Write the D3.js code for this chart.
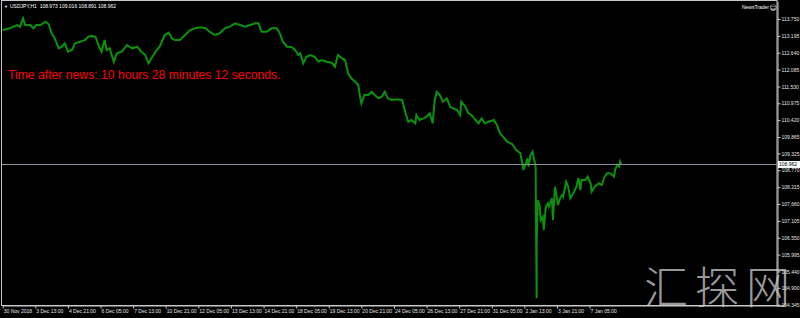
<!DOCTYPE html>
<html>
<head>
<meta charset="utf-8">
<script src="https://cdn.jsdelivr.net/npm/d3@7"></script>
<style>
  html, body { margin: 0; padding: 0; background: #000; }
  svg { display: block; }
</style>
</head>
<body>
<svg width="800" height="318"></svg>
<script>
// H1 bar index (trading hours since 30 Nov 2018 05:00) and close
var bars = [0,7,14,17,20,22,27,30,33,37,
  42,45,48,51,55,58,61,64,68,71,
  76,81,84,87,91,94,97,100,102,105,
  109,112,117,122,127,132,136,140,143,146,
  150,154,159,163,166,169,174,179,184,189,
  194,199,203,208,213,218,223,228,233,238,
  243,248,251,254,259,264,269,272,275,279,
  284,287,290,292,295,298,302,306,310,313,
  318,323,326,329,333,336,339,342,346,349,
  351,352,355,359,362,365,369,372,375,378,
  382,387,392,395,398,401,405,406,409,413,
  416,419,422,424,426,429,432,436,439,442,
  446,449,450,454,457,460,464,467,470,473,
  477,482,485,488,491,495,500,504,508,510,
  511,514,515,516,518,520,522,523,524,524,
  525,527,528,530,531,533,535,536,539,540,
  542,544,545,547,549,550,553,555,557,560,
  563,565,567,568,572,574,577,578,581,585,
  588,590,593,596,600,601,603,605,606,607];

var closes = [113.388,113.444,113.552,113.497,113.773,113.552,113.552,113.444,113.552,113.552,
  113.661,113.585,113.279,113.115,112.785,112.838,112.950,112.674,112.729,112.950,
  113.003,113.059,113.167,113.190,113.167,112.894,112.674,113.059,112.729,112.785,
  112.344,112.621,112.674,112.894,112.785,112.838,112.674,112.565,112.292,112.456,
  112.674,112.838,113.223,113.299,113.115,113.059,113.059,113.223,113.388,113.444,
  113.477,113.444,113.332,113.223,113.279,113.444,113.497,113.608,113.552,113.497,
  113.552,113.608,113.608,113.332,113.332,113.444,113.444,113.279,113.003,112.838,
  112.818,112.729,112.565,112.621,112.292,112.509,112.565,112.509,112.344,112.400,
  112.344,112.311,112.180,112.565,112.456,112.400,111.962,111.798,111.686,111.577,
  111.139,110.975,111.248,111.248,111.357,111.248,111.139,111.192,111.357,111.139,
  111.083,111.107,111.083,110.698,110.369,110.425,110.316,110.590,110.425,110.481,
  110.534,110.646,110.316,111.083,111.357,111.248,111.028,111.139,110.863,110.810,
  110.754,110.590,111.028,110.863,110.646,110.590,110.425,110.316,110.481,110.316,
  110.369,110.425,110.260,109.987,109.875,109.711,109.635,109.437,109.329,109.000,
  108.779,109.052,109.164,108.888,109.273,109.381,109.052,108.888,104.555,106.254,
  107.792,107.571,107.133,107.242,106.804,107.571,107.683,107.571,107.847,107.133,
  108.229,107.847,107.627,107.847,107.956,107.900,108.394,108.229,107.847,108.012,
  108.229,108.506,108.121,108.450,108.450,108.559,108.341,108.065,108.229,108.341,
  108.285,108.506,108.670,108.670,108.559,108.779,108.944,108.888,109.052,108.962];

var timeLabels = ['30 Nov 2018', '3 Dec 13:00', '4 Dec 21:00', '6 Dec 05:00', '7 Dec 13:00',
  '10 Dec 21:00', '12 Dec 05:00', '13 Dec 13:00', '14 Dec 21:00', '18 Dec 05:00',
  '19 Dec 13:00', '20 Dec 21:00', '24 Dec 05:00', '26 Dec 13:00', '27 Dec 21:00',
  '31 Dec 05:00', '2 Jan 13:00', '3 Jan 21:00', '7 Jan 05:00'];
var timeTicks = [0, 32, 64, 96, 128, 160, 192, 224, 256, 288, 320, 352, 384, 416, 448, 480, 512, 544, 576];

var priceTicks = [113.750, 113.195, 112.640, 112.085, 111.530, 110.975, 110.420, 109.865, 109.325,
  108.770, 108.215, 107.660, 107.105, 106.550, 105.995, 105.440, 104.900, 104.345];

var lastPrice = 108.962;
var header = 'USDJPY,H1  108.973 109.016 108.891 108.962';
var newsText = 'Time after news: 10 hours 28 minutes 12 seconds.';

var svg = d3.select('svg'),
  width = +svg.attr('width'),
  height = +svg.attr('height');

var plotLeft = 2, plotRight = 777, plotTop = 1, plotBottom = 305.5;

var x = d3.scaleLinear().domain([0, 760]).range([2.7, 777.1]);
var y = d3.scaleLinear().domain([104.318, 114.343]).range([plotBottom, plotTop]);

var smallFont = '5px "Liberation Sans", Arial, sans-serif';

// frame
svg.append('rect')
  .attr('x', plotLeft - 0.5).attr('y', plotTop - 0.5)
  .attr('width', plotRight - plotLeft + 0.5).attr('height', plotBottom - plotTop + 0.5)
  .attr('fill', 'none')
  .attr('stroke', '#c8c8c8')
  .attr('stroke-width', 1);

// price line
var line = d3.line()
  .x(function(d) { return x(d[0]); })
  .y(function(d) { return y(d[1]); });

svg.append('path')
  .datum(d3.zip(bars, closes))
  .attr('d', line)
  .attr('fill', 'none')
  .attr('stroke', '#0a930a')
  .attr('stroke-width', 2)
  .attr('stroke-linejoin', 'miter');

// bid line
svg.append('line')
  .attr('x1', plotLeft).attr('x2', plotRight)
  .attr('y1', Math.round(y(lastPrice)) + 0.5).attr('y2', Math.round(y(lastPrice)) + 0.5)
  .attr('stroke', '#8c8c9a')
  .attr('stroke-width', 1);

// watermark (sits under the axis labels, as in the screenshot)
svg.append('text')
  .attr('x', 644).attr('y', 304)
  .attr('fill', '#c4c4c4')
  .attr('fill-opacity', 0.8)
  .attr('letter-spacing', 7)
  .style('font', '300 44px "Noto Sans CJK SC", sans-serif')
  .text('汇探网');

// right axis
var yAxis = svg.append('g')
  .attr('transform', 'translate(' + (plotRight + 0.5) + ',0)')
  .call(d3.axisRight(y)
    .tickValues(priceTicks)
    .tickFormat(d3.format('.3f'))
    .tickSize(3)
    .tickPadding(1)
    .tickSizeOuter(0));
yAxis.select('.domain').attr('stroke', '#c8c8c8');
yAxis.selectAll('line').attr('stroke', '#c8c8c8');
yAxis.selectAll('text').attr('fill', '#e6e6e6').style('font', smallFont);

// bottom axis
var xAxis = svg.append('g')
  .attr('transform', 'translate(0,' + plotBottom + ')')
  .call(d3.axisBottom(x)
    .tickValues(timeTicks)
    .tickFormat(function(d, i) { return timeLabels[i]; })
    .tickSize(3)
    .tickSizeOuter(0));
xAxis.select('.domain').attr('stroke', '#c8c8c8');
xAxis.selectAll('line').attr('stroke', '#c8c8c8');
xAxis.selectAll('text')
  .attr('fill', '#e6e6e6')
  .attr('text-anchor', 'start')
  .attr('x', 0.5)
  .attr('y', 3.5)
  .style('font', smallFont);

// last price box
var py = y(lastPrice);
svg.append('rect')
  .attr('x', plotRight + 1).attr('y', py - 3.5)
  .attr('width', 22).attr('height', 7)
  .attr('fill', '#fff');
svg.append('text')
  .attr('x', plotRight + 2).attr('y', py + 1.8)
  .attr('fill', '#000')
  .style('font', smallFont)
  .text(d3.format('.3f')(lastPrice));

// header
svg.append('text')
  .attr('x', 4).attr('y', 8)
  .attr('fill', '#fff')
  .style('font', '4px sans-serif')
  .text('\u25BC');
svg.append('text')
  .attr('x', 10).attr('y', 8)
  .attr('fill', '#fff')
  .attr('xml:space', 'preserve')
  .style('font', smallFont)
  .text(header);

svg.append('text')
  .attr('x', 769).attr('y', 9)
  .attr('text-anchor', 'end')
  .attr('fill', '#fff')
  .style('font', smallFont)
  .text('NewsTrader');
svg.append('text')
  .attr('x', 769.5).attr('y', 9.5)
  .attr('fill', '#fff')
  .style('font', '7px "DejaVu Sans", sans-serif')
  .text('\u263A');

// news timer
svg.append('text')
  .attr('x', 8).attr('y', 79)
  .attr('fill', '#ff0000')
  .style('font', '12.2px "Liberation Sans", Arial, sans-serif')
  .text(newsText);
</script>
</body>
</html>
